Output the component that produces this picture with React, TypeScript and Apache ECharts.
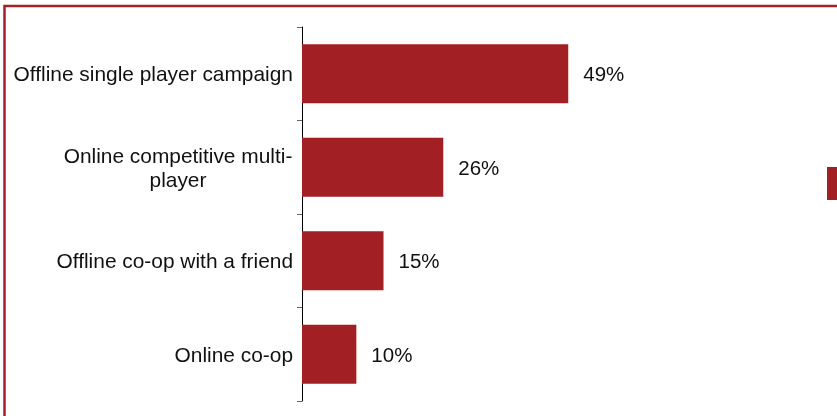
import React, { useEffect, useRef } from "react";
import * as echarts from "echarts";

const categories = [
  "Offline single player campaign",
  "Online competitive multi-\nplayer",
  "Offline co-op with a friend",
  "Online co-op",
];
const values = [49, 26, 15, 10];
const seriesName = "Share of respondents";

const BAR = "#a21f23";
const FONT = "'Liberation Sans', Arial, sans-serif";

export default function App() {
  const ref = useRef<HTMLDivElement>(null);
  useEffect(() => {
    const chart = echarts.init(ref.current!, null, { renderer: "svg" });
    chart.setOption({
      animation: false,
      textStyle: { fontFamily: FONT },
      grid: { left: 302, top: 27, bottom: 15, right: 46, containLabel: false },
      legend: {
        show: true,
        left: 827,
        top: 167,
        padding: 0,
        itemWidth: 33,
        itemHeight: 33,
        icon: "rect",
        formatter: () => "",
        data: [seriesName],
      },
      xAxis: {
        type: "value",
        min: 0,
        max: 90,
        show: false,
      },
      yAxis: {
        type: "category",
        inverse: true,
        data: categories.map((c) =>
          c.includes("\n")
            ? { value: c, textStyle: { align: "center", padding: [0, 230, 0, 0] } }
            : c
        ),
        axisLine: { show: true, lineStyle: { color: "#000", width: 1 } },
        axisTick: { show: true, length: 5, lineStyle: { color: "#666" } },
        axisLabel: {
          margin: 9,
          fontSize: 20.9,
          lineHeight: 24,
          color: "#111",
          fontFamily: FONT,
        },
        splitLine: { show: false },
      },
      series: [
        {
          name: seriesName,
          type: "bar",
          data: values,
          barWidth: 59,
          itemStyle: { color: BAR },
          label: {
            show: true,
            position: "right",
            distance: 15,
            formatter: "{c}%",
            fontSize: 20.5,
            color: "#111",
            fontFamily: FONT,
          },
        },
      ],
      graphic: [
        {
          type: "rect",
          shape: { x: 4.5, y: 6, width: 900, height: 500 },
          style: { fill: "none", stroke: "#a52025", lineWidth: 2.5 },
          silent: true,
        },
      ],
    });
    return () => chart.dispose();
  }, []);
  return (
    <div
      ref={ref}
      style={{ position: "fixed", left: 0, top: 0, width: 837, height: 416 }}
    />
  );
}
